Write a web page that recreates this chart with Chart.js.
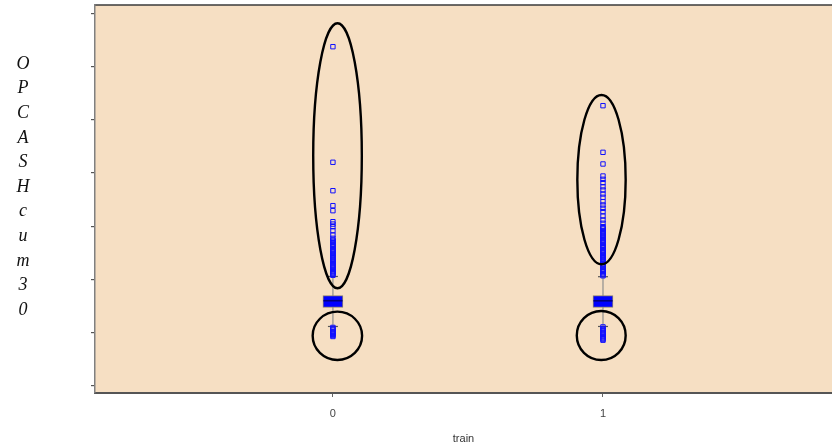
<!DOCTYPE html>
<html>
<head>
<meta charset="utf-8">
<script src="https://cdn.jsdelivr.net/npm/chart.js@4/dist/chart.umd.min.js"></script>
<style>
  html, body { margin: 0; padding: 0; background: #ffffff; overflow: hidden; }
  #wrap { width: 832px; height: 448px; }
</style>
</head>
<body>
<div id="wrap"><canvas id="c" width="832" height="448"></canvas></div>
<script>
// Groups on the x axis
const categories = ['0', '1'];
const categoryValues = [0, 1];
const xTitle = 'train';
const yTitle = 'OPCASHcum30';
const yTickValues = [0, 1, 2, 3, 4, 5, 6, 7];

// Box statistics per group
const boxQ1 = [1.478, 1.478];
const boxMedian = [1.602, 1.600];
const boxQ3 = [1.696, 1.696];
const whiskerLow = [1.118, 1.118];
const whiskerHigh = [2.057, 2.053];

// Outlying observations per group
const outliers0 = [
  6.373, 4.202, 3.668, 3.387, 3.293, 3.086, 3.041, 2.992, 2.917, 2.836, 2.774,
  2.74, 2.72, 2.70, 2.67, 2.65, 2.63, 2.61, 2.58, 2.56, 2.54, 2.52, 2.49, 2.47,
  2.45, 2.43, 2.41, 2.38, 2.36, 2.34, 2.32, 2.30, 2.27, 2.25, 2.23, 2.21, 2.19,
  2.16, 2.14, 2.12, 2.10, 2.08,
  1.10, 1.08, 1.06, 1.03, 1.01, 0.99, 0.97, 0.95, 0.93
];
const outliers1 = [
  5.265, 4.389, 4.170, 3.944, 3.882, 3.819, 3.743, 3.681, 3.606, 3.544, 3.462,
  3.400, 3.338, 3.274, 3.193, 3.118, 3.056, 2.992,
  2.97, 2.95, 2.92, 2.90, 2.88, 2.86, 2.83, 2.81, 2.79, 2.77, 2.74, 2.72, 2.70,
  2.68, 2.65, 2.63, 2.61, 2.59, 2.56, 2.54, 2.52, 2.50, 2.47, 2.45, 2.43, 2.41,
  2.38, 2.36, 2.34, 2.32, 2.29, 2.27, 2.25, 2.23, 2.20, 2.18, 2.16, 2.14, 2.11,
  2.09, 2.07,
  1.11, 1.08, 1.06, 1.04, 1.01, 0.99, 0.97, 0.94, 0.92, 0.90, 0.88, 0.86
];

// Ellipses circling the outlier groups, in data units
const ringXMin = [-0.073, -0.075, 0.905, 0.903];
const ringXMax = [0.107, 0.108, 1.084, 1.084];
const ringYMin = [1.835, 0.488, 2.286, 0.488];
const ringYMax = [6.813, 1.396, 5.466, 1.409];

const panelFill = '#F6DFC3';

const panelPlugin = {
  id: 'panel',
  beforeDraw(chart) {
    const { ctx, chartArea: a } = chart;
    ctx.save();
    ctx.fillStyle = panelFill;
    ctx.fillRect(a.left, a.top, a.right - a.left, a.bottom - a.top);
    ctx.strokeStyle = '#3a3a3a';
    ctx.lineWidth = 1.5;
    ctx.beginPath();
    ctx.moveTo(a.left, a.top);
    ctx.lineTo(a.right, a.top);
    ctx.stroke();
    ctx.restore();
  },
  afterDatasetsDraw(chart) {
    const { ctx } = chart;
    const xs = chart.scales.x, ys = chart.scales.y;
    ctx.save();
    ctx.strokeStyle = '#000000';
    ctx.lineWidth = 2.4;
    for (let i = 0; i < ringXMin.length; i++) {
      const x0 = xs.getPixelForValue(ringXMin[i]);
      const x1 = xs.getPixelForValue(ringXMax[i]);
      const y0 = ys.getPixelForValue(ringYMax[i]);
      const y1 = ys.getPixelForValue(ringYMin[i]);
      ctx.beginPath();
      ctx.ellipse((x0 + x1) / 2, (y0 + y1) / 2, (x1 - x0) / 2, (y1 - y0) / 2, 0, 0, Math.PI * 2);
      ctx.stroke();
    }
    ctx.restore();
  },
  afterDraw(chart) {
    // stacked vertical axis title
    const { ctx } = chart;
    ctx.save();
    ctx.fillStyle = '#111111';
    ctx.font = 'italic 18px "Liberation Serif", "DejaVu Serif", serif';
    ctx.textAlign = 'center';
    ctx.textBaseline = 'middle';
    const letters = yTitle.split('');
    const step = 24.6;
    const startY = 64;
    letters.forEach((ch, i) => ctx.fillText(ch, 23, startY + i * step));
    ctx.restore();
  }
};

const boxData = categoryValues.map((x, i) => ({ x, y: [boxQ1[i], boxQ3[i]] }));
const medianData = categoryValues.map((x, i) => ({ x, y: boxMedian[i] }));
const capData = categoryValues.flatMap((x, i) => [{ x, y: whiskerLow[i] }, { x, y: whiskerHigh[i] }]);
const outlierData = [
  ...outliers0.map(y => ({ x: categoryValues[0], y })),
  ...outliers1.map(y => ({ x: categoryValues[1], y }))
];
const whiskerSets = categoryValues.map((x, i) => ({
  type: 'line',
  data: [{ x, y: whiskerLow[i] }, { x, y: whiskerHigh[i] }],
  borderColor: '#8f8f8f',
  borderWidth: 1.2,
  pointRadius: 0,
  order: 6
}));

new Chart(document.getElementById('c'), {
  type: 'scatter',
  data: {
    datasets: [
      {
        type: 'scatter',
        data: outlierData,
        pointStyle: 'rect',
        pointRadius: 3.1,
        borderColor: '#1010ff',
        backgroundColor: 'rgba(0,0,0,0)',
        borderWidth: 1,
        order: 1
      },
      {
        type: 'scatter',
        data: capData,
        pointStyle: 'line',
        pointRadius: 5,
        borderColor: '#555555',
        borderWidth: 1.2,
        order: 2
      },
      {
        type: 'scatter',
        data: medianData,
        pointStyle: 'line',
        pointRadius: 9.5,
        borderColor: '#000080',
        borderWidth: 1.6,
        order: 3
      },
      {
        type: 'bar',
        data: boxData,
        backgroundColor: '#0000FF',
        borderColor: '#8a8070',
        borderWidth: 1,
        borderSkipped: false,
        barThickness: 20,
        order: 4
      },
      ...whiskerSets
    ]
  },
  options: {
    responsive: false,
    animation: false,
    events: [],
    layout: { autoPadding: false, padding: { top: 5, left: 0, right: 0, bottom: 0 } },
    plugins: { legend: { display: false }, tooltip: { enabled: false } },
    scales: {
      x: {
        type: 'linear',
        min: -0.881,
        max: 1.848,
        offset: false,
        afterFit(scale) { scale.height = 55; },
        afterBuildTicks(scale) { scale.ticks = categoryValues.map(v => ({ value: v })); },
        border: { display: true, color: '#555555', width: 2 },
        grid: { display: true, offset: false, drawOnChartArea: false, drawTicks: true, tickLength: 4, color: '#666666', lineWidth: 1 },
        ticks: {
          padding: 10,
          color: '#444444',
          font: { family: '"Liberation Sans", Arial, sans-serif', size: 11 },
          callback(v) { const i = categoryValues.indexOf(v); return i >= 0 ? categories[i] : ''; }
        },
        title: {
          display: true,
          text: xTitle,
          color: '#333333',
          font: { family: '"Liberation Sans", Arial, sans-serif', size: 11 },
          padding: { top: 0, bottom: 2 }
        }
      },
      y: {
        type: 'linear',
        min: -0.1315,
        max: 7.156,
        afterFit(scale) { scale.width = 95; },
        afterBuildTicks(scale) { scale.ticks = yTickValues.map(v => ({ value: v })); },
        border: { display: true, color: '#808080', width: 1.5 },
        grid: { display: true, offset: false, drawOnChartArea: false, drawTicks: true, tickLength: 4, color: '#555555', lineWidth: 1.2 },
        ticks: { display: false }
      }
    }
  },
  plugins: [panelPlugin]
});
</script>
</body>
</html>
